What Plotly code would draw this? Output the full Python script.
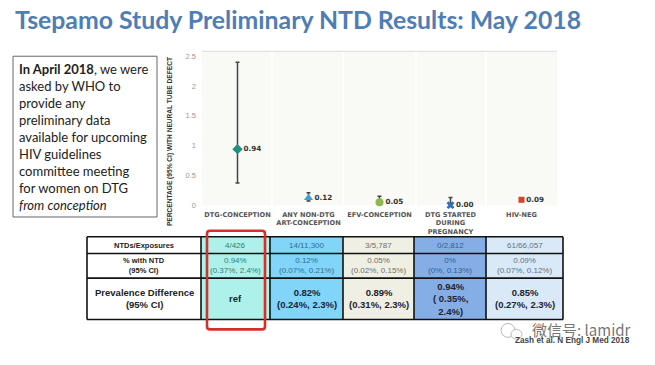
import plotly.graph_objects as go

W, H = 655, 365
TITLE = "Tsepamo Study Preliminary NTD Results: May 2018"
BOX_LINES = ["<b>In April 2018</b>, we were", "asked by WHO to", "provide any", "preliminary data",
             "available for upcoming", "HIV guidelines", "committee meeting",
             "for women on DTG", "<i>from conception</i>"]
categories = ["DTG-CONCEPTION", "ANY NON-DTG<br>ART-CONCEPTION", "EFV-CONCEPTION",
              "DTG STARTED<br>DURING<br>PREGNANCY", "HIV-NEG"]
values = [0.94, 0.12, 0.05, 0.00, 0.09]
ci_low = [0.37, 0.07, 0.02, 0.00, 0.07]
ci_high = [2.4, 0.21, 0.15, 0.13, 0.12]
colors = ["#1f8f7f", "#3f9fd0", "#8fb84f", "#2f6fb5", "#d8402f"]
symbols = ["diamond", "triangle-up", "circle", "x", "square"]
sizes = [8, 8, 8, 7, 6]
y_ticks = [0, 0.5, 1, 1.5, 2, 2.5]
y_title = "PERCENTAGE (95% CI) WITH NEURAL TUBE DEFECT"

row_labels = ["NTDs/Exposures", "% with NTD<br>(95% CI)", "Prevalence Difference<br>(95% CI)"]
row_exposures = ["4/426", "14/11,300", "3/5,787", "0/2,812", "61/66,057"]
row_percent = ["0.94%<br>(0.37%, 2.4%)", "0.12%<br>(0.07%, 0.21%)", "0.05%<br>(0.02%, 0.15%)",
               "0%<br>(0%, 0.13%)", "0.09%<br>(0.07%, 0.12%)"]
row_diff = ["ref", "0.82%<br>(0.24%, 2.3%)", "0.89%<br>(0.31%, 2.3%)",
            "0.94%<br>( 0.35%,<br>2.4%)", "0.85%<br>(0.27%, 2.3%)"]
cell_fill = ["#aef1ea", "#80d5f8", "#efefe4", "#85aee6", "#d9e9f8"]
cell_text = ["#2f7f75", "#2f6f98", "#6f7068", "#2f5f98", "#5f7285"]
col_edges = [87, 201, 270, 343, 414, 486, 563]
row_edges = [240, 257, 282, 324]

px = lambda x: x / W
py = lambda y: 1 - y / H

fig = go.Figure()
for i, cat in enumerate(categories):
    fig.add_trace(go.Scatter(
        x=[cat], y=[values[i]], mode="markers+text",
        text=[f"{values[i]:.2f}"], textposition="middle right",
        textfont=dict(family="DejaVu Sans", size=7.2, color="#333", weight="bold"),
        marker=dict(color=colors[i], symbol=symbols[i], size=sizes[i]),
        error_y=dict(type="data", symmetric=False, array=[ci_high[i] - values[i]],
                     arrayminus=[values[i] - ci_low[i]], color="#444", thickness=1.5, width=2),
        showlegend=False, cliponaxis=False))

shapes, ann = [], []
def rect(x0, y0, x1, y1, **kw):
    shapes.append(dict(type="rect", xref="paper", yref="paper", x0=px(x0), x1=px(x1), y0=py(y0), y1=py(y1), **kw))
def text(x, y, s, size, color="#222", family="Lato", xanchor="center", weight=None, **kw):
    f = dict(family=family, size=size, color=color)
    if weight:
        f["weight"] = weight
    ann.append(dict(x=px(x), y=py(y), xref="paper", yref="paper", text=s, showarrow=False, font=f,
                    xanchor=xanchor, yanchor="middle", **kw))

text(13, 20, TITLE, 24.8, "#4f7db5", "Lato", "left", weight="bold")

rect(13, 57, 157, 220, line=dict(color="#666", width=1), fillcolor="white")
for i, line in enumerate(BOX_LINES):
    text(16.5, 69.5 + i * 17.25, line, 13, "#222", "Lato", "left")

text(170, 144, y_title, 6.6, "#333", "Liberation Sans", textangle=-90, weight="bold")

# table
rows = [row_exposures, row_percent, row_diff]
for c in range(5):
    rect(col_edges[c + 1], row_edges[0], col_edges[c + 2], row_edges[3], fillcolor=cell_fill[c], line=dict(width=0))
for r in range(3):
    ym = (row_edges[r] + row_edges[r + 1]) / 2
    text(144, ym, row_labels[r], [7.5, 7.5, 9.5][r], "#222", "Liberation Sans", weight="bold")
    for c in range(5):
        xm = (col_edges[c + 1] + col_edges[c + 2]) / 2
        if r < 2:
            text(xm, ym, rows[r][c], 8, cell_text[c], "Liberation Sans")
        else:
            text(xm, ym, rows[r][c], 9.5, "#223", "Liberation Sans", weight="bold")
for x in col_edges:
    shapes.append(dict(type="line", xref="paper", yref="paper", x0=px(x), x1=px(x), y0=py(240), y1=py(324),
                       line=dict(color="#111", width=1.6)))
for y in row_edges:
    shapes.append(dict(type="line", xref="paper", yref="paper", x0=px(87), x1=px(563), y0=py(y), y1=py(y),
                       line=dict(color="#111", width=1.6)))
rx0, rx1, ry0, ry1, rr = px(207), px(265), py(234), py(334), 3
dx, dy = rr / W, rr / H
shapes.append(dict(type="path", xref="paper", yref="paper",
                   path=(f"M {rx0+dx} {ry0} L {rx1-dx} {ry0} Q {rx1} {ry0} {rx1} {ry0-dy} "
                         f"L {rx1} {ry1+dy} Q {rx1} {ry1} {rx1-dx} {ry1} "
                         f"L {rx0+dx} {ry1} Q {rx0} {ry1} {rx0} {ry1+dy} "
                         f"L {rx0} {ry0-dy} Q {rx0} {ry0} {rx0+dx} {ry0} Z"),
                   line=dict(color="#d3302a", width=2.6)))

# panel dividers
for x in [272, 343, 416, 486]:
    shapes.append(dict(type="line", xref="paper", yref="paper", x0=px(x), x1=px(x), y0=py(208), y1=py(52),
                       line=dict(color="#ffffff", width=1.5), layer="below"))
shapes.append(dict(type="line", xref="paper", yref="paper", x0=px(202), x1=px(557), y0=py(52), y1=py(52),
                   line=dict(color="#dddddd", width=1)))

# citation + watermark
text(632, 345, "Zash et al. N Engl J Med 2018", 8.2, "#444", "Liberation Sans", "right", weight="bold")
shapes.append(dict(type="circle", xref="paper", yref="paper", x0=px(501), x1=px(515), y0=py(342), y1=py(328),
                   fillcolor="#ffffff", line=dict(color="#b8b8b8", width=1)))
shapes.append(dict(type="circle", xref="paper", yref="paper", x0=px(511), x1=px(522), y0=py(344), y1=py(334),
                   fillcolor="#ffffff", line=dict(color="#b8b8b8", width=1)))
text(530, 334, "微信号: lamidr", 15, "#777", "Noto Sans CJK SC", "left")

fig.update_layout(
    width=W, height=H, autosize=False, margin=dict(l=0, r=0, t=0, b=0),
    paper_bgcolor="white", plot_bgcolor="#f9f9f6",
    shapes=shapes, annotations=ann,
    xaxis=dict(domain=[px(202), px(557)], type="category", categoryorder="array", categoryarray=categories,
               range=[-0.5, 4.5], showgrid=False, zeroline=False, ticks="", ticklen=0, ticklabelstandoff=4,
               tickfont=dict(family="DejaVu Sans", size=6.6, color="#555", weight="bold"), tickangle=0),
    yaxis=dict(domain=[py(208), py(52)], range=[0, 2.583], tickvals=y_ticks, ticktext=[str(v) for v in y_ticks],
               showgrid=False, zeroline=False, ticklabelstandoff=5,
               tickfont=dict(family="Liberation Sans", size=7.5, color="#999")),
)
fig.write_html("out.html", config=dict(displayModeBar=False), post_script="document.body.style.margin='0';")
